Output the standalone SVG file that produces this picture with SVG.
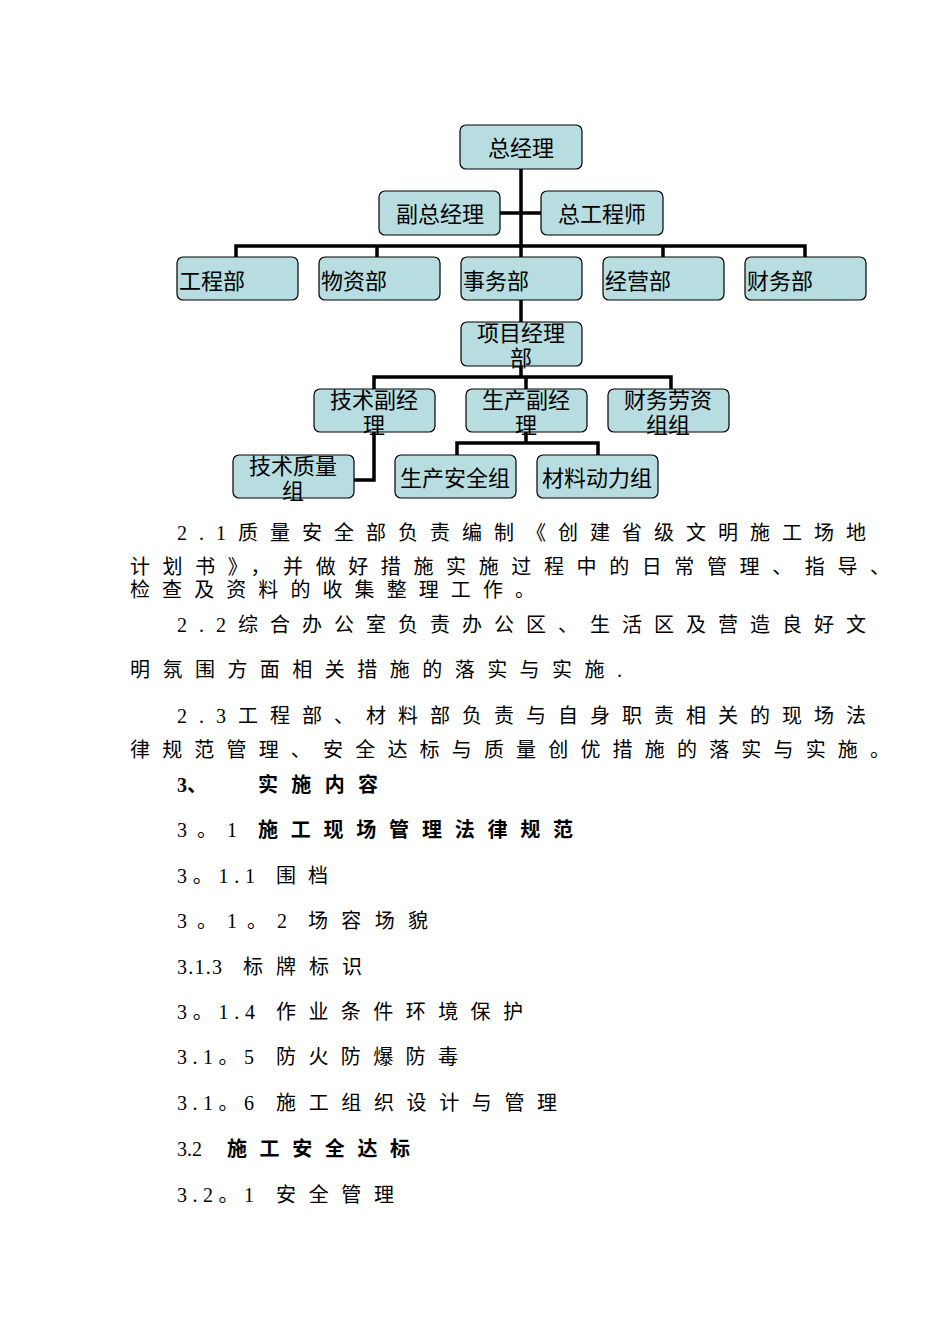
<svg xmlns="http://www.w3.org/2000/svg" width="950" height="1344" viewBox="0 0 950 1344">
<style>
.n{fill:#b7dde0;stroke:#000;stroke-width:1.2}
.l{fill:none;stroke:#000;stroke-width:3.5}
.t{font-family:"Liberation Sans","Noto Sans CJK SC",sans-serif;font-size:22px;fill:#000}
.b{font-family:"Liberation Serif","Noto Sans CJK SC",serif;font-size:20px;fill:#000}
.bb{font-weight:bold}
</style>
<rect width="950" height="1344" fill="#fff"/>
<g id="connectors">
<path class="l" d="M521 169V322M500 213H541M236 257V246H805V257M377 246V257M663 246V257M521 366V377M374 389V377H671V389M526 377V389M526 432V443M457 455V443H598V455M374 432V480H354"/>
</g>
<g id="n1"><rect class="n" x="460" y="125" width="122" height="44" rx="6"/><text class="t" x="521" y="156" text-anchor="middle">总经理</text></g>
<g id="n2"><rect class="n" x="379" y="191" width="121" height="44" rx="6"/><text class="t" x="440" y="222" text-anchor="middle">副总经理</text></g>
<g id="n3"><rect class="n" x="541" y="191" width="122" height="44" rx="6"/><text class="t" x="602" y="222" text-anchor="middle">总工程师</text></g>
<g id="n4"><rect class="n" x="177" y="257" width="121" height="43" rx="6"/><text class="t" x="179" y="289">工程部</text></g>
<g id="n5"><rect class="n" x="319" y="257" width="121" height="43" rx="6"/><text class="t" x="321" y="289">物资部</text></g>
<g id="n6"><rect class="n" x="461" y="257" width="121" height="43" rx="6"/><text class="t" x="463" y="289">事务部</text></g>
<g id="n7"><rect class="n" x="603" y="257" width="121" height="43" rx="6"/><text class="t" x="605" y="289">经营部</text></g>
<g id="n8"><rect class="n" x="745" y="257" width="121" height="43" rx="6"/><text class="t" x="747" y="289">财务部</text></g>
<g id="n9"><rect class="n" x="461" y="322" width="121" height="44" rx="6"/><text class="t" x="521" y="341" text-anchor="middle">项目经理</text><text class="t" x="521" y="366" text-anchor="middle">部</text></g>
<g id="n10"><rect class="n" x="314" y="389" width="121" height="43" rx="6"/><text class="t" x="374" y="408" text-anchor="middle">技术副经</text><text class="t" x="374" y="433" text-anchor="middle">理</text></g>
<g id="n11"><rect class="n" x="466" y="389" width="121" height="43" rx="6"/><text class="t" x="526" y="408" text-anchor="middle">生产副经</text><text class="t" x="526" y="433" text-anchor="middle">理</text></g>
<g id="n12"><rect class="n" x="608" y="389" width="121" height="43" rx="6"/><text class="t" x="668" y="408" text-anchor="middle">财务劳资</text><text class="t" x="668" y="433" text-anchor="middle">组组</text></g>
<g id="n13"><rect class="n" x="233" y="455" width="121" height="43" rx="6"/><text class="t" x="293" y="474" text-anchor="middle">技术质量</text><text class="t" x="293" y="499" text-anchor="middle">组</text></g>
<g id="n14"><rect class="n" x="395" y="455" width="121" height="43" rx="6"/><text class="t" x="455" y="486" text-anchor="middle">生产安全组</text></g>
<g id="n15"><rect class="n" x="537" y="455" width="121" height="43" rx="6"/><text class="t" x="597" y="486" text-anchor="middle">材料动力组</text></g>
<g id="body">
<text class="b" x="177" y="540" textLength="689" lengthAdjust="spacing">2.1质量安全部负责编制《创建省级文明施工场地</text>
<text class="b" x="130" y="574" textLength="760" lengthAdjust="spacing">计划书》，并做好措施实施过程中的日常管理、指导、</text>
<text class="b" x="130" y="597" textLength="405" lengthAdjust="spacing">检查及资料的收集整理工作。</text>
<text class="b" x="177" y="632" textLength="689" lengthAdjust="spacing">2.2综合办公室负责办公区、生活区及营造良好文</text>
<text class="b" x="130" y="677" textLength="492" lengthAdjust="spacing">明氛围方面相关措施的落实与实施.</text>
<text class="b" x="177" y="723" textLength="689" lengthAdjust="spacing">2.3工程部、材料部负责与自身职责相关的现场法</text>
<text class="b" x="130" y="757" textLength="760" lengthAdjust="spacing">律规范管理、安全达标与质量创优措施的落实与实施。</text>
<text class="b bb" x="177" y="792">3、</text>
<text class="b bb" x="258" y="792" textLength="120" lengthAdjust="spacing">实施内容</text>
<text class="b" x="177" y="837" textLength="60" lengthAdjust="spacing">3。1</text>
<text class="b bb" x="258" y="837" textLength="315" lengthAdjust="spacing">施工现场管理法律规范</text>
<text class="b" x="177" y="883" textLength="78" lengthAdjust="spacing">3。1.1</text>
<text class="b" x="276" y="883" textLength="52" lengthAdjust="spacing">围档</text>
<text class="b" x="177" y="928" textLength="110" lengthAdjust="spacing">3。1。2</text>
<text class="b" x="308" y="928" textLength="120" lengthAdjust="spacing">场容场貌</text>
<text class="b" x="177" y="974" textLength="45" lengthAdjust="spacing">3.1.3</text>
<text class="b" x="243" y="974" textLength="119" lengthAdjust="spacing">标牌标识</text>
<text class="b" x="177" y="1019" textLength="78" lengthAdjust="spacing">3。1.4</text>
<text class="b" x="276" y="1019" textLength="247" lengthAdjust="spacing">作业条件环境保护</text>
<text class="b" x="177" y="1064" textLength="77" lengthAdjust="spacing">3.1。5</text>
<text class="b" x="276" y="1064" textLength="182" lengthAdjust="spacing">防火防爆防毒</text>
<text class="b" x="177" y="1110" textLength="77" lengthAdjust="spacing">3.1。6</text>
<text class="b" x="276" y="1110" textLength="281" lengthAdjust="spacing">施工组织设计与管理</text>
<text class="b" x="177" y="1156">3.2</text>
<text class="b bb" x="227" y="1156" textLength="183" lengthAdjust="spacing">施工安全达标</text>
<text class="b" x="177" y="1202" textLength="77" lengthAdjust="spacing">3.2。1</text>
<text class="b" x="276" y="1202" textLength="118" lengthAdjust="spacing">安全管理</text>
</g>
</svg>
